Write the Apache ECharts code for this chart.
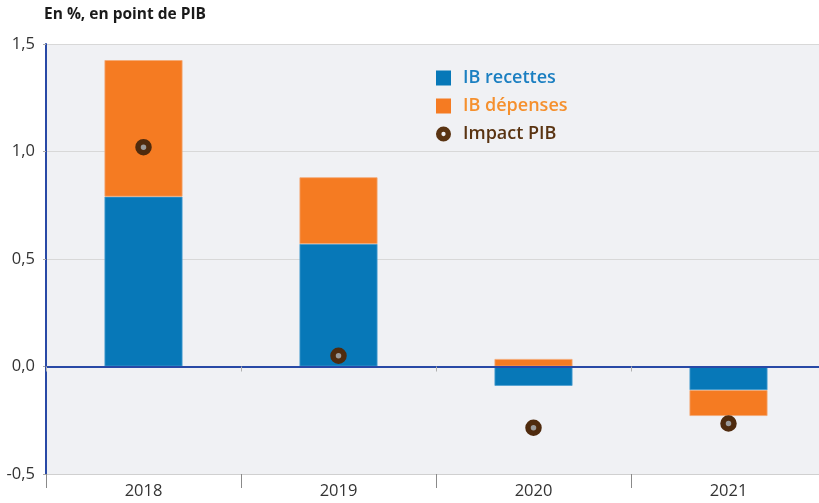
<!DOCTYPE html>
<html>
<head>
<meta charset="utf-8">
<script src="https://cdn.jsdelivr.net/npm/echarts@6/dist/echarts.min.js"></script>
<style>
html,body{margin:0;padding:0;background:#fff;overflow:hidden;}
#c{width:826px;height:503px;}
</style>
</head>
<body>
<div id="c"></div>
<script>
const categories = ['2018', '2019', '2020', '2021'];
const ibRecettes = [0.79, 0.57, -0.09, -0.11];
const ibDepenses = [0.635, 0.31, 0.035, -0.12];
const impactPIB = [1.02, 0.05, -0.285, -0.265];
const yTicks = { min: -0.5, max: 1.5, interval: 0.5 };

const FONT = '"Open Sans", "Noto Sans", sans-serif';
const RING = 'path://M7,0 A7,7 0 1,1 6.99,0 Z M7,5 A2,2 0 1,0 7.01,5 Z';
const chart = echarts.init(document.getElementById('c'));
chart.setOption({
  backgroundColor: '#ffffff',
  animation: false,
  title: {
    text: 'En %, en point de PIB',
    left: 39, top: 2,
    textStyle: { fontFamily: FONT, fontSize: 15.5, fontWeight: 'bold', color: '#1a1a1a' }
  },
  grid: {
    left: 46, top: 44, right: 0, bottom: 29,
    show: true, backgroundColor: '#f0f1f4', borderWidth: 0
  },
  legend: {
    orient: 'vertical', left: 431, top: 64, itemGap: 10,
    itemWidth: 15, itemHeight: 15,
    textStyle: { fontFamily: FONT, fontSize: 18, fontWeight: 600, padding: [0, 0, 0, 7] },
    data: [
      { name: 'IB recettes', icon: 'rect', itemStyle: { borderWidth: 0 }, textStyle: { color: '#1b7fc1' } },
      { name: 'IB dépenses', icon: 'rect', itemStyle: { borderWidth: 0 }, textStyle: { color: '#f5902e' } },
      { name: 'Impact PIB', icon: RING, itemStyle: { color: '#5a3412', borderWidth: 0 }, textStyle: { color: '#5a3412' } }
    ]
  },
  xAxis: [
    {
      type: 'category', data: categories, boundaryGap: true,
      axisLine: { onZero: true, lineStyle: { color: '#2849a6', width: 2 } },
      axisTick: { show: true, length: 5, lineStyle: { color: '#b0b0b0' } },
      axisLabel: { show: false },
      z: 5
    },
    {
      type: 'category', data: categories, boundaryGap: true, position: 'bottom',
      axisLine: { onZero: false, show: true, lineStyle: { color: '#d0d0d0', width: 1 } },
      axisTick: { show: true, length: 14, lineStyle: { color: '#8a8a8a' } },
      axisLabel: { fontFamily: FONT, fontSize: 16.5, color: '#333', margin: 9 }
    }
  ],
  yAxis: {
    type: 'value', min: yTicks.min, max: yTicks.max, interval: yTicks.interval,
    axisLine: { show: true, lineStyle: { color: '#2849a6', width: 2 } },
    axisTick: { show: true, length: 3, lineStyle: { color: '#aaa' } },
    splitLine: { show: true, lineStyle: { color: '#d8d8d8' } },
    axisLabel: {
      fontFamily: FONT, fontSize: 16.5, color: '#333', margin: 11,
      formatter: v => v.toFixed(1).replace('.', ',')
    }
  },
  series: [
    {
      name: 'IB recettes', type: 'bar', stack: 'ib', data: ibRecettes,
      barWidth: 78, itemStyle: { color: '#0778b8', borderColor: '#4d9fd0', borderWidth: 0.8 }
    },
    {
      name: 'IB dépenses', type: 'bar', stack: 'ib', data: ibDepenses,
      barWidth: 78, itemStyle: { color: '#f57b22', borderColor: '#f4a874', borderWidth: 0.8 }
    },
    {
      name: 'Impact PIB', type: 'scatter', data: impactPIB,
      symbol: 'circle', symbolSize: 11, z: 10,
      itemStyle: { color: '#9a9a9a', borderColor: '#4f2b0e', borderWidth: 5.5, opacity: 1 }
    }
  ]
});
</script>
</body>
</html>
